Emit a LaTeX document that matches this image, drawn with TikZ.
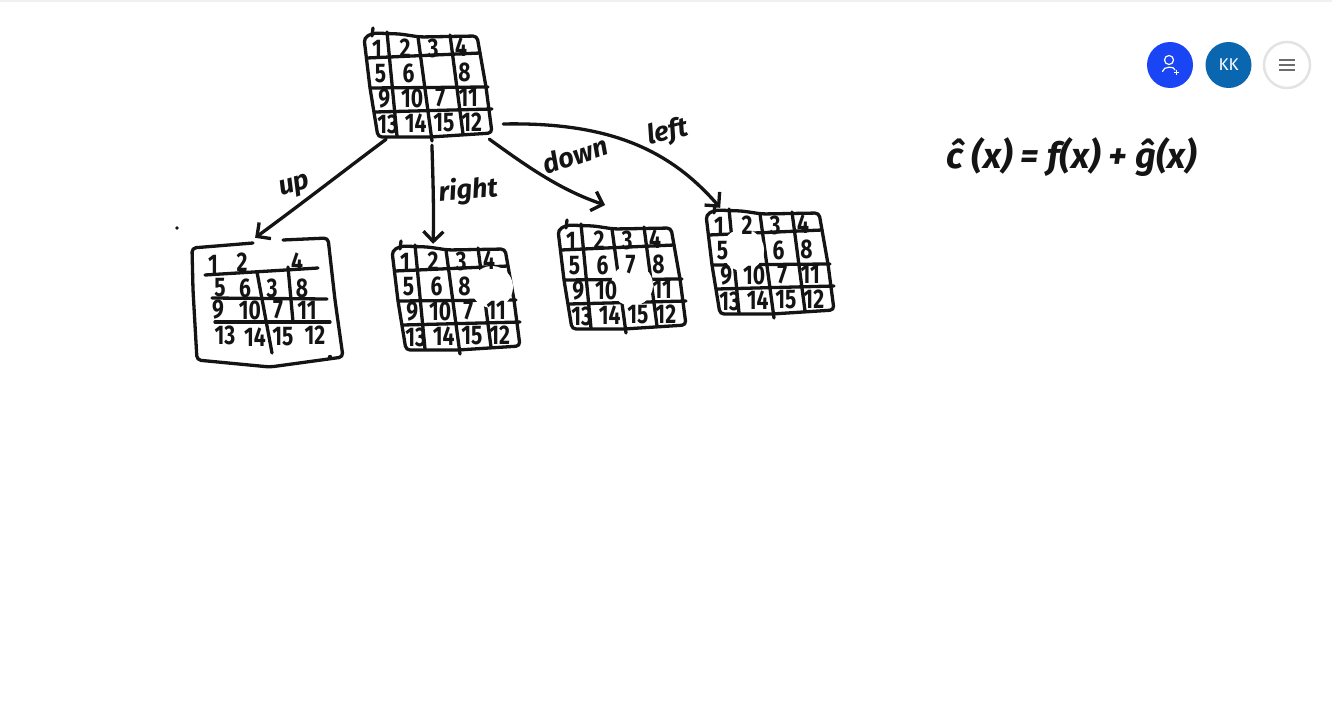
\documentclass[tikz,border=0pt]{standalone}
\usepackage{fontspec}
\usepackage{tikz}
\usetikzlibrary{arrows.meta,positioning,calc}
\newfontfamily\penfont{Fira Sans}
\definecolor{ink}{HTML}{141414}
\definecolor{addblue}{HTML}{1A45F5}
\definecolor{userblue}{HTML}{0A66AE}
\tikzset{
  penline/.style={ink, line width=3.3pt, line cap=round, line join=round, rounded corners=4pt},
  penarrow/.style={ink, line width=3.3pt, line cap=round, -{Straight Barb[length=10pt,width=20pt,line width=3.3pt]}},
  digit/.style={ink, inner sep=0pt, xscale=0.78, transform shape, font=\fontsize{27}{27}\penfont\bfseries},
  pentext/.style={ink, inner sep=0pt, font=\fontsize{27}{27}\penfont\bfseries\itshape},
  eraser/.style={white, fill=white},
  boardbox/.style={inner sep=0pt, minimum width=130pt, minimum height=108pt},
  roundbutton/.style={circle, minimum size=46pt, inner sep=0pt}
}
% one 4x4 board, drawn at the place of the top board and moved by (#2,#3)
% #1 name, #4 x and y of the white patch, #5 numbers row by row
\newcommand{\puzzleboard}[5]{
\node[boardbox] (#1) at ($(427,85)+(#2,#3)$) {};
\begin{scope}[shift={(#2,#3)}]
\draw[penline] (373,33) -- (364,38) -- (370,88) -- (378,137) -- (430,137) -- (492,133) -- (486,87) -- (477,36) -- (420,37) -- (400,34) -- cycle;
\draw[penline] (373,28) -- (372,36);
\draw[penline] (367,58) -- (480,53);
\draw[penline] (370,88) -- (488,87);
\draw[penline] (375,112) -- (492,109);
\draw[penline] (387,32) -- (397,136);
\draw[penline] (418,37) -- (432,141);
\draw[penline] (450,35) -- (463,134);
\fill[eraser] (#4) circle (21);
\foreach \val [count=\i from 0] in {#5} {
  \pgfmathtruncatemacro{\row}{int(\i/4)}
  \pgfmathtruncatemacro{\col}{\i-4*\row}
  \node[digit] (#1-\i) at ({377+28*\col+3.6*\row},{49+25*\row-0.5*\col}) {\val};
}
\end{scope}
}
\begin{document}
\begin{tikzpicture}[x=1pt,y=-1pt]
\useasboundingbox (0,0) rectangle (1332,709);
\fill[gray!12] (0,0) rectangle (1332,2);
% the boards
\puzzleboard{topboard}{0}{0}{-100,-100}{1,2,3,4,5,6,,8,9,10,7,11,13,14,15,12}
\puzzleboard{rightboard}{28}{213}{464,74}{1,2,3,4,5,6,8,,9,10,7,11,13,14,15,12}
\puzzleboard{downboard}{194}{192}{438,93}{1,2,3,4,5,6,7,8,9,10,,11,13,14,15,12}
\puzzleboard{leftboard}{342}{177}{401,73}{1,2,3,4,5,,6,8,9,10,7,11,13,14,15,12}
% the larger board on the left
\node[inner sep=0pt, minimum width=153pt, minimum height=129pt] (upboard) at (266.5,302.5) {};
\draw[penline] (253,243) -- (192,248) -- (193,290) -- (197,360) -- (270,367) -- (343,357) -- (335,300) -- (328,238) -- (283,240);
\draw[penline] (205,275) -- (318,268);
\draw[penline] (212,298) -- (327,299);
\draw[penline] (215,322) -- (330,322);
\draw[penline] (257,272) -- (272,353);
\draw[penline] (288,267) -- (293,322);
\foreach \val/\px/\py [count=\i] in {1/213/264,2/242/262,4/297/262,5/220/288,6/245/288,3/272/288,8/302/288,9/218/310,10/250/310,7/278/310,11/307/310,13/225/335,14/255/337,15/283/337,12/315/335}
  \node[digit] (upboard-\i) at (\px,\py) {\val};
\fill[ink] (177,228) circle (1.8);
\fill[ink] (330,357) circle (2.2);
% moves
\draw[penarrow] (topboard.-127) .. controls (345,170) and (300,205) .. (upboard.100);
\draw[penarrow, shorten <=6pt] (topboard.-85) .. controls (433,180) and (434,210) .. (rightboard.112);
\coordinate (downtip) at (605,205);
\draw[penarrow] (topboard.-41) .. controls (525,165) and (560,190) .. (downtip);
\draw[penarrow, shorten <=11pt] (topboard.-31) .. controls (610,122) and (670,150) .. (leftboard.132);
\node[pentext, rotate=15] (uplabel) at (295,187) {up};
\node[pentext, rotate=5] (rightlabel) at (468,191) {right};
\node[pentext, rotate=18] (downlabel) at (575,155) {down};
\node[pentext, rotate=12] (leftlabel) at (668,133) {left};
% the formula
\node[ink, inner sep=0pt, font=\fontsize{36}{36}\penfont\bfseries\itshape] (formula) at (1072,157) {ĉ (x) = f(x) + ĝ(x)};
% buttons
\node[roundbutton, fill=addblue] (addbutton) at (1170,65) {};
\draw[white, line width=1.2pt] (1169,60) circle (4.5);
\draw[white, line width=1.2pt, line cap=round] (1162.5,71.5) .. controls (1163,66) and (1175,66) .. (1175,70);
\draw[white, line width=1pt] (1174,72) -- (1179,72) (1176.5,69.5) -- (1176.5,74.5);
\node[roundbutton, fill=userblue, text=white, font=\fontsize{17}{17}\penfont] (userbutton) at (1228.5,65) {KK};
\node[roundbutton, fill=white, draw=gray!22, line width=2.5pt] (menubutton) at (1287,65) {};
\foreach \dy in {-5,0,5}
  \draw[gray!85!black, line width=2pt] ($(menubutton)+(-8,\dy)$) -- ($(menubutton)+(8,\dy)$);
\end{tikzpicture}
\end{document}
